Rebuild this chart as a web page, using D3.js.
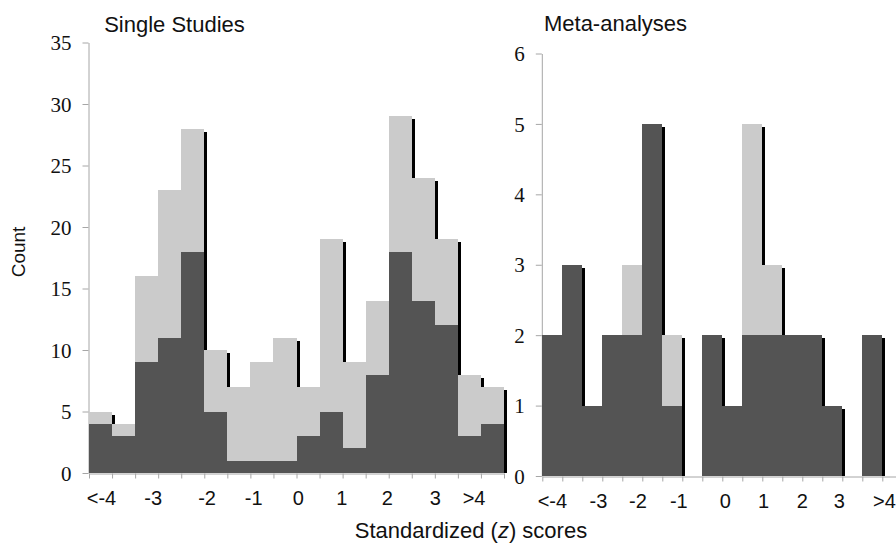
<!DOCTYPE html>
<html>
<head>
<meta charset="utf-8">
<script src="https://cdn.jsdelivr.net/npm/d3@7"></script>
<style>
  html, body { margin: 0; padding: 0; background: #fff; }
  svg { display: block; }
</style>
</head>
<body>
<svg id="chart" width="896" height="544"></svg>
<script>
// ---- DATA ----
const bins = ["<-4","-4","-3.5","-3","-2.5","-2","-1.5","-1","-0.5","0","0.5","1","1.5","2","2.5","3","3.5",">4"];

// Single studies: dark (bottom) and light (top) segments
const singleDark  = [4,3,9,11,18,5,1,1,1,3,5,2,8,18,14,12,3,4];
const singleLight = [1,1,7,12,10,5,6,8,10,4,14,7,6,11,10,7,5,3];

// Meta-analyses
const metaDark  = [2,3,1,2,2,5,1,0,2,1,2,2,2,2,1,0,2,0];
const metaLight = [0,0,0,0,1,0,1,0,0,0,3,1,0,0,0,0,0,0];

// Tick labels (x, in z units) and y ticks
const xTickLabels   = ["<-4","-3","-2","-1","0","1","2","3",">4"];
const singleLabelZ  = [-4.24,-3.12,-1.95,-0.94,0.03,0.97,1.96,3.0,3.84];
const metaLabelZ    = [-4.26,-3.11,-2.12,-1.1,0.06,1.02,1.99,2.91,4.04];
const singleYTicks  = [0,5,10,15,20,25,30,35];
const metaYTicks    = [0,1,2,3,4,5,6];

// ---- STYLE ----
const SANS = '"Liberation Sans", Arial, sans-serif';
const SERIF = '"Liberation Serif", "Times New Roman", serif';
const DARK = "#545454", LIGHT = "#cbcbcb", AXIS = "#a6a6a6";
const svg = d3.select("#chart");

function panel(opts) {
  const { dark, light, yMax, yTicks, labelZ, x0, x1, yBottom, yTop, title, titleX, titleY } = opts;
  const g = svg.append("g");
  const xBand = d3.scaleBand().domain(bins).range([x0, x1]).padding(0);
  const xIdx = d3.scaleLinear().domain([0, bins.length]).range([x0, x1]);
  const xZ = d3.scaleLinear().domain([-4.5, 4.5]).range([x0, x1]);
  const y = d3.scaleLinear().domain([0, yMax]).range([yBottom, yTop]);

  const table = bins.map((b, i) => ({ bin: b, dark: dark[i], light: light[i] }));
  const stacked = d3.stack().keys(["dark", "light"])(table);
  const totals = table.map(d => d.dark + d.light);

  // y axis
  const yAxis = g.append("g")
    .attr("transform", `translate(${x0 - 0.5},0)`)
    .call(d3.axisLeft(y).tickValues(yTicks).tickSize(6).tickPadding(11).tickSizeOuter(0).tickFormat(d3.format("d")));
  yAxis.attr("font-family", SERIF).attr("font-size", 21);
  yAxis.select(".domain").attr("stroke", AXIS);
  yAxis.selectAll(".tick line").attr("stroke", AXIS);
  yAxis.selectAll(".tick text").attr("font-family", SERIF).attr("font-size", 21).attr("fill", "#111").attr("dy", "0.34em");

  // x axis tick marks
  const xAxis = g.append("g")
    .attr("transform", `translate(0,${yBottom + 0.5})`)
    .call(d3.axisBottom(xIdx).tickValues(d3.range(bins.length + 1)).tickSize(5).tickSizeOuter(0).tickFormat(""));
  xAxis.select(".domain").attr("stroke", AXIS);
  xAxis.selectAll(".tick line").attr("stroke", AXIS);

  // x labels
  const xLab = g.append("g")
    .attr("transform", `translate(0,${yBottom})`)
    .call(d3.axisBottom(xZ).tickValues(labelZ).tickSize(0).tickPadding(18)
      .tickFormat((d, i) => xTickLabels[i]));
  xLab.attr("font-family", SANS).attr("font-size", 20);
  xLab.select(".domain").remove();
  xLab.selectAll(".tick text").attr("font-family", SANS).attr("font-size", 20).attr("fill", "#111");

  // shadows
  g.append("g").attr("shape-rendering", "crispEdges")
    .selectAll("rect").data(table.filter((d, i) => totals[i] > 0))
    .join("rect")
    .attr("x", d => xBand(d.bin) + 3)
    .attr("y", d => y(d.dark + d.light) + 3)
    .attr("width", xBand.bandwidth())
    .attr("height", d => Math.max(0, y(0) - y(d.dark + d.light) - 3))
    .attr("fill", "#000");

  // stacked bars
  const colors = { dark: DARK, light: LIGHT };
  g.append("g").attr("shape-rendering", "crispEdges")
    .selectAll("g").data(stacked).join("g")
    .attr("fill", s => colors[s.key])
    .selectAll("rect").data(s => s.map(v => ({ v, bin: v.data.bin })))
    .join("rect")
    .attr("x", d => Math.round(xBand(d.bin)))
    .attr("y", d => y(d.v[1]))
    .attr("width", d => Math.round(xBand(d.bin) + xBand.bandwidth()) - Math.round(xBand(d.bin)))
    .attr("height", d => y(d.v[0]) - y(d.v[1]));

  g.append("text").attr("font-family", SANS).attr("font-size", 22).attr("fill", "#111")
    .attr("x", titleX).attr("y", titleY).attr("text-anchor", "middle").text(title);
}

panel({ dark: singleDark, light: singleLight, yMax: 35, yTicks: singleYTicks, labelZ: singleLabelZ,
        x0: 89, x1: 504, yBottom: 473, yTop: 42.5, title: "Single Studies", titleX: 174.5, titleY: 32 });
panel({ dark: metaDark, light: metaLight, yMax: 6, yTicks: metaYTicks, labelZ: metaLabelZ,
        x0: 542.3, x1: 902.3, yBottom: 476, yTop: 53.5, title: "Meta-analyses", titleX: 615.5, titleY: 31 });

// axis titles
svg.append("text").attr("font-family", SANS).attr("font-size", 19).attr("fill", "#111")
  .attr("transform", "translate(25,252) rotate(-90)").attr("text-anchor", "middle").text("Count");

const xt = svg.append("text").attr("font-family", SANS).attr("font-size", 22).attr("fill", "#111")
  .attr("x", 471).attr("y", 538).attr("text-anchor", "middle");
xt.append("tspan").text("Standardized (");
xt.append("tspan").attr("font-style", "italic").text("z");
xt.append("tspan").text(") scores");
</script>
</body>
</html>
